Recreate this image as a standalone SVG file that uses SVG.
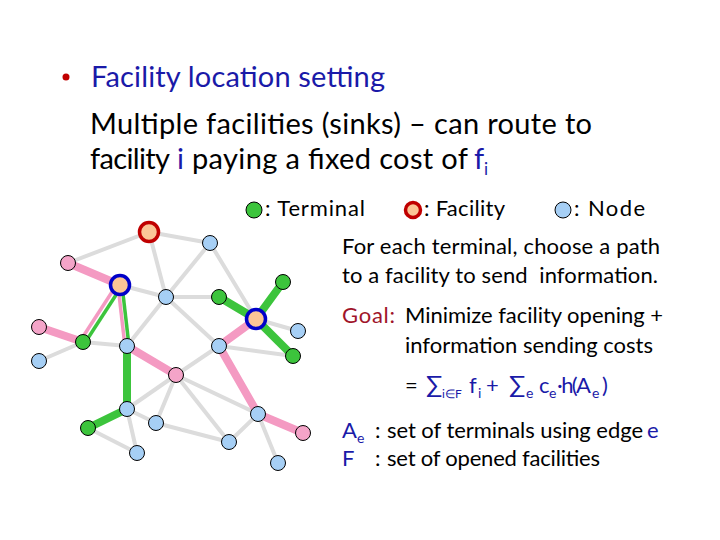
<svg xmlns="http://www.w3.org/2000/svg" width="720" height="540" viewBox="0 0 720 540">
<style>
text{font-family:Lato,"Open Sans","Liberation Sans",sans-serif;fill:#000;white-space:pre}
.t1{font-size:29px}
.t2{font-size:22px}
.sb{font-size:14px}
.sm{font-size:12px}
.sg{font-size:24px}
text.bl{fill:#1a1aa8}
text.rd{fill:#a0142a}
.gr{stroke:#dcdcdc;stroke-width:4;stroke-linecap:round;fill:none}
.pk{stroke:#f49ac2;stroke-width:8;stroke-linecap:round;fill:none}
.gn{stroke:#3cc43c;stroke-width:8;stroke-linecap:round;fill:none}
.pk2{stroke:#f49ac2;stroke-width:3.5;fill:none}
.gn2{stroke:#3cc43c;stroke-width:3.5;fill:none}
.n{fill:#a6cff5;stroke:#000;stroke-width:1}
.p{fill:#f4a4c8;stroke:#000;stroke-width:1}
.g{fill:#3cc43c;stroke:#000;stroke-width:1}
.fr{fill:#fbc596;stroke:#c00000;stroke-width:3.5}
.fb{fill:#fbc596;stroke:#0000c8;stroke-width:3.5}
</style>
<rect width="720" height="540" fill="#fff"/>
<circle cx="66" cy="77" r="3.5" fill="#c00000"/>
<text class="t1 bl" x="91" y="87" textLength="294">Facility location setting</text>
<text class="t1" x="90" y="134" textLength="502">Multiple facilities (sinks) – can route to</text>
<text class="t1" x="90" y="169" textLength="80">facility</text>
<text class="t1 bl" x="177" y="169">i</text>
<text class="t1" x="192" y="169" textLength="276">paying a fixed cost of</text>
<text class="t1 bl" x="474" y="169">f</text>
<text class="t1 bl" x="484" y="175" style="font-size:17px">i</text>

<g id="legend">
<circle class="g" cx="254" cy="210" r="8"/>
<text class="t2" x="265" y="216" textLength="100">: Terminal</text>
<circle class="fr" cx="413" cy="210" r="7.5"/>
<text class="t2" x="424" y="216" textLength="81">: Facility</text>
<circle class="n" cx="563" cy="210" r="8"/>
<text class="t2" x="574" y="216" textLength="71">: Node</text>
</g>

<text class="t2" x="342" y="254" textLength="318">For each terminal, choose a path</text>
<text class="t2" x="342" y="283" textLength="316">to a facility to send  information.</text>
<text class="t2 rd" x="342" y="323" textLength="53">Goal:</text>
<text class="t2" x="405" y="323" textLength="258">Minimize facility opening +</text>
<text class="t2" x="405" y="353" textLength="248">information sending costs</text>
<text class="t2" x="405" y="393">=</text>
<text class="sg bl" x="426" y="393">∑</text>
<text class="sm bl" x="442" y="398">i∈F</text>
<text class="t2 bl" x="469" y="393">f</text>
<text class="sb bl" x="478" y="398">i</text>
<text class="t2 bl" x="486" y="393">+</text>
<text class="sg bl" x="509" y="393">∑</text>
<text class="sb bl" x="526" y="398">e</text>
<text class="t2 bl" x="539" y="393">c</text>
<text class="sb bl" x="549" y="398">e</text>
<text class="t2 bl" x="557" y="393" textLength="34">·h(A</text>
<text class="sb bl" x="592" y="398">e</text>
<text class="t2 bl" x="602" y="393">)</text>
<text class="t2 bl" x="342" y="438">A</text>
<text class="sb bl" x="357" y="443">e</text>
<text class="t2" x="375" y="438">:</text>
<text class="t2" x="387" y="438" textLength="256">set of terminals using edge</text>
<text class="t2 bl" x="647" y="438">e</text>
<text class="t2 bl" x="342" y="466">F</text>
<text class="t2" x="375" y="466">:</text>
<text class="t2" x="387" y="466" textLength="213">set of opened facilities</text>

<g id="connectors">
<line class="gr" x1="149" y1="232" x2="68" y2="263"/>
<line class="gr" x1="149" y1="232" x2="210" y2="243"/>
<line class="gr" x1="149" y1="232" x2="166" y2="297"/>
<line class="gr" x1="210" y1="243" x2="166" y2="297"/>
<line class="gr" x1="210" y1="243" x2="256" y2="319"/>
<line class="gr" x1="120" y1="285" x2="166" y2="297"/>
<line class="gr" x1="166" y1="297" x2="219" y2="297"/>
<line class="gr" x1="166" y1="297" x2="127" y2="346"/>
<line class="gr" x1="166" y1="297" x2="219" y2="346"/>
<line class="gr" x1="256" y1="319" x2="298" y2="331"/>
<line class="gr" x1="219" y1="346" x2="293" y2="356"/>
<line class="gr" x1="83" y1="342" x2="127" y2="346"/>
<line class="gr" x1="83" y1="342" x2="39" y2="361"/>
<line class="gr" x1="176" y1="375" x2="219" y2="346"/>
<line class="gr" x1="176" y1="375" x2="127" y2="409"/>
<line class="gr" x1="176" y1="375" x2="156" y2="423"/>
<line class="gr" x1="176" y1="375" x2="229" y2="442"/>
<line class="gr" x1="176" y1="375" x2="258" y2="414"/>
<line class="gr" x1="258" y1="414" x2="229" y2="442"/>
<line class="gr" x1="258" y1="414" x2="278" y2="463"/>
<line class="gr" x1="156" y1="423" x2="229" y2="442"/>
<line class="gr" x1="127" y1="409" x2="137" y2="453"/>
<line class="gr" x1="127" y1="409" x2="156" y2="423"/>
<line class="gr" x1="88" y1="428" x2="137" y2="453"/>
<line class="pk" x1="68" y1="263" x2="120" y2="285"/>
<line class="pk" x1="39" y1="327" x2="83" y2="342"/>
<line class="pk" x1="127" y1="346" x2="176" y2="375"/>
<line class="pk" x1="256" y1="319" x2="219" y2="346"/>
<line class="pk" x1="219" y1="346" x2="258" y2="414"/>
<line class="pk" x1="258" y1="414" x2="303" y2="433"/>
<line class="gn" x1="219" y1="297" x2="256" y2="319"/>
<line class="gn" x1="283" y1="282" x2="256" y2="319"/>
<line class="gn" x1="293" y1="356" x2="256" y2="319"/>
<line class="gn" x1="127" y1="346" x2="127" y2="409"/>
<line class="gn" x1="127" y1="409" x2="88" y2="428"/>
<line class="pk2" x1="117.5" y1="283.5" x2="80.5" y2="340.5"/>
<line class="gn2" x1="121.5" y1="286.5" x2="84.5" y2="343.5"/>
<line class="pk2" x1="118" y1="285.5" x2="125" y2="346.5"/>
<line class="gn2" x1="122" y1="285" x2="129" y2="346"/>
</g>

<g id="nodes">
<circle id="n1" class="n" cx="210" cy="243" r="7.5"/>
<circle id="n2" class="p" cx="68" cy="263" r="7.5"/>
<circle id="n3" class="n" cx="166" cy="297" r="7.5"/>
<circle id="n4" class="g" cx="219" cy="297" r="7.5"/>
<circle id="n5" class="g" cx="283" cy="282" r="7.5"/>
<circle id="n6" class="n" cx="298" cy="331" r="7.5"/>
<circle id="n7" class="p" cx="39" cy="327" r="7.5"/>
<circle id="n8" class="g" cx="83" cy="342" r="7.5"/>
<circle id="n9" class="n" cx="127" cy="346" r="7.5"/>
<circle id="n10" class="n" cx="219" cy="346" r="7.5"/>
<circle id="n11" class="g" cx="293" cy="356" r="7.5"/>
<circle id="n12" class="n" cx="39" cy="361" r="7.5"/>
<circle id="n13" class="p" cx="176" cy="375" r="7.5"/>
<circle id="n14" class="n" cx="127" cy="409" r="7.5"/>
<circle id="n15" class="n" cx="156" cy="423" r="7.5"/>
<circle id="n16" class="n" cx="258" cy="414" r="7.5"/>
<circle id="n17" class="g" cx="88" cy="428" r="7.5"/>
<circle id="n18" class="p" cx="303" cy="433" r="7.5"/>
<circle id="n19" class="n" cx="229" cy="442" r="7.5"/>
<circle id="n20" class="n" cx="137" cy="453" r="7.5"/>
<circle id="n21" class="n" cx="278" cy="463" r="7.5"/>
<circle id="f1" class="fr" cx="149" cy="232" r="9.5"/>
<circle id="f2" class="fb" cx="120" cy="285" r="9.5"/>
<circle id="f3" class="fb" cx="256" cy="319" r="9.5"/>
</g>
</svg>
